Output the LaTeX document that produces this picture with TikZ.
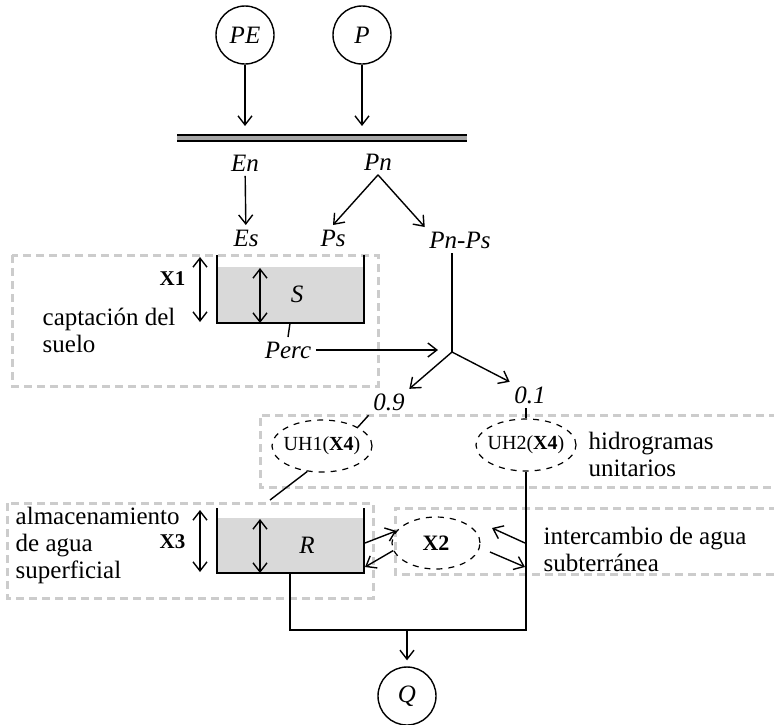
\documentclass[tikz,border=0pt]{standalone}
\usepackage{fontspec}
\setmainfont{Liberation Serif}
\usetikzlibrary{shapes.geometric,arrows.meta}

\begin{document}
\begin{tikzpicture}[x=0.5pt,y=-0.5pt,line width=0.7pt,
        >={Straight Barb[length=4.5pt,width=7pt]},
        circ/.style={draw,circle,minimum size=29pt,inner sep=0pt,font=\fontsize{12.5}{14}\selectfont\itshape},
        lbl/.style={inner sep=2pt,font=\fontsize{12.5}{14}\selectfont\itshape},
        txt/.style={anchor=west,align=left,inner sep=0pt,font=\fontsize{12.5}{13.5}\selectfont},
        xlbl/.style={anchor=base east,inner sep=0pt,font=\fontsize{10.5}{12}\selectfont\bfseries},
        uh/.style={draw,dashed,ellipse,minimum width=50pt,minimum height=26pt,inner sep=0pt,line width=0.6pt,font=\fontsize{11}{12}\selectfont},
        zone/.style={draw=black!20,line width=1.5pt,dash pattern=on 4pt off 2.5pt},
        water/.style={fill=black!15},
        dbl/.style={line width=0.9pt,double=black!35,double distance=1.8pt}]
        \useasboundingbox (0,0) rectangle (774,724);

        % zones
        \draw[zone] (12,255) rectangle (378,386);
        \draw[zone] (790,415) -- (260,415) -- (260,487) -- (790,487);
        \draw[zone] (7,503) rectangle (373,598);
        \draw[zone] (790,508) -- (395,508) -- (395,574) -- (790,574);

        % inputs
        \node[circ] (PE) at (245,35) {PE};
        \node[circ] (P) at (362,35) {P};

        \coordinate (barL) at (177,138);
        \coordinate (barR) at (467,138);
        \draw[dbl] (barL) -- (barR);

        \draw[->,shorten >=6pt] (PE) -- (PE |- barL);
        \draw[->,shorten >=6pt] (P) -- (P |- barL);

        \node[lbl] (En) at (245,163) {En};
        \node[lbl] (Pn) at (378,162) {Pn};
        \node[lbl] (Es) at (246,238) {Es};
        \node[lbl] (Ps) at (333,238) {Ps};
        \node[lbl] (PnPs) at (460,240) {Pn-Ps};

        \draw[->] (En) -- (Es);
        \draw[->] (Pn.south) -- (Ps.north);
        \draw[->] (Pn.south) -- (PnPs.north west);

        % production store
        \fill[water] (217,267) rectangle (364,323);
        \draw (217,255) -- (217,323) -- (364,323) -- (364,255);
        \draw[<->] (200,257) -- (200,322);
        \draw[<->] (260,268) -- (260,323);
        \node[lbl] (S) at (297,294) {S};
        \node[xlbl] (X1) at (186,285) {X1};
        \node[txt] (soil) at (42,330) {captación del\\suelo};

        \coordinate (Sout) at (290,323);
        \node[lbl] (Perc) at (288,350) {Perc};
        \draw (Sout) -- (Perc.north);

        % split
        \coordinate (fork) at (452,352);
        \draw (fork |- PnPs.south) -- (fork);
        \draw[->,shorten >=7pt] (Perc.east) -- (Perc.east -| fork);

        \node[lbl] (n09) at (389,402) {0.9};
        \node[lbl] (n01) at (530,395) {0.1};
        \draw[->] (fork) -- (n09.north east);
        \draw[->] (fork) -- (n01.north west);

        % unit hydrographs
        \node[uh,label={center:UH1(\textbf{X4})}] (UH1) at (322,446) {};
        \node[uh,label={center:UH2(\textbf{X4})}] (UH2) at (526,445) {};
        \node[txt] (uhtxt) at (588,454) {hidrogramas\\unitarios};

        \draw (n09.south west) -- (UH1.north east);
        \draw (UH2.north |- n01.south) -- (UH2.north);
        \coordinate (UH1end) at (270,500);
        \draw (UH1.240) -- (UH1end);

        % routing store
        \fill[water] (217,518) rectangle (364,573);
        \draw (217,508) -- (217,573) -- (364,573) -- (364,508);
        \draw[<->] (200,510) -- (200,572);
        \draw[<->] (260,519) -- (260,573);
        \node[lbl] (R) at (307,545) {R};
        \node[xlbl] (X3) at (186,548) {X3};
        \node[txt] (store) at (15,545) {almacenamiento\\de agua\\superficial};

        % exchange
        \node[uh,minimum width=44pt] (X2) at (436,543) {\textbf{X2}};
        \node[txt] (exch) at (543,549) {intercambio de agua\\subterránea};

        \coordinate (rA) at (365,543);
        \coordinate (rB) at (365,567);
        \coordinate (vA) at (525,543);
        \coordinate (vB) at (525,567);
        \coordinate (xC) at (492,528);
        \coordinate (xD) at (490,552);
        \draw[->] (rA) -- (X2.163);
        \draw[->] (X2.190) -- (rB);
        \draw[->] (vA) -- (xC);
        \draw[->] (xD) -- (vB);

        % outflow
        \coordinate (Rout) at (290,573);
        \coordinate (qjoin) at (407,630);
        \node[circ] (Q) at (407,696) {Q};
        \draw (UH2.south) |- (Rout |- qjoin) -- (Rout);
        \draw[->,shorten >=3pt] (qjoin) -- (Q);
\end{tikzpicture}
\end{document}
